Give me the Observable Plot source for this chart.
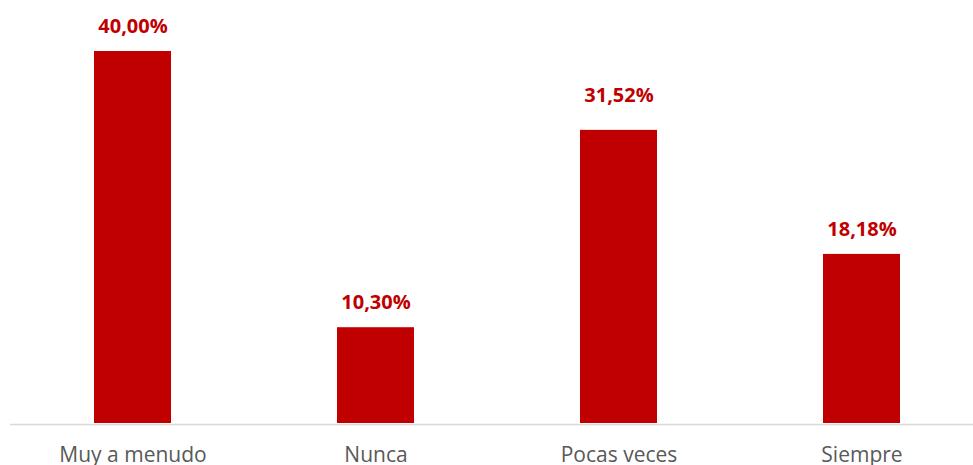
<!DOCTYPE html>
<html>
<head>
<meta charset="utf-8">
<script src="https://cdn.jsdelivr.net/npm/d3@7"></script>
<script src="https://cdn.jsdelivr.net/npm/@observablehq/plot@0.6"></script>
<style>
html,body{margin:0;padding:0;background:#fff;}
</style>
</head>
<body>
<div id="chart"></div>
<script>
const categories = ["Muy a menudo", "Nunca", "Pocas veces", "Siempre"];
const values = [40.00, 10.30, 31.52, 18.18];
const data = categories.map((c, i) => ({category: c, value: values[i]}));
const fmt = v => v.toFixed(2).replace(".", ",") + "%";
const raisedLabel = "Pocas veces";

const chart = Plot.plot({
  width: 973,
  height: 465,
  marginLeft: 10,
  marginRight: 0,
  marginTop: 0,
  marginBottom: 42,
  style: {fontFamily: "Open Sans, sans-serif", background: "#fff"},
  x: {domain: categories, range: [9, 984], paddingInner: 0.684, paddingOuter: 0.342, align: 0.5, label: null},
  y: {domain: [0, 40], range: [423, 51], axis: null},
  marks: [
    Plot.barY(data, {x: "category", y: "value", fill: "#C00000"}),
    Plot.ruleY([0], {stroke: "#d9d9d9", strokeWidth: 1.5, dy: 1}),
    Plot.text(data, {filter: d => d.category !== raisedLabel, x: "category", y: "value", text: d => fmt(d.value), dy: -25, fill: "#C00000", fontWeight: "bold", fontSize: 20}),
    Plot.text(data, {filter: d => d.category === raisedLabel, x: "category", y: "value", text: d => fmt(d.value), dy: -35, fill: "#C00000", fontWeight: "bold", fontSize: 20}),
    Plot.axisX({tickSize: 0, tickPadding: 24, fontSize: 21, color: "#595959", label: null})
  ]
});
document.getElementById("chart").appendChild(chart);
</script>
</body>
</html>
